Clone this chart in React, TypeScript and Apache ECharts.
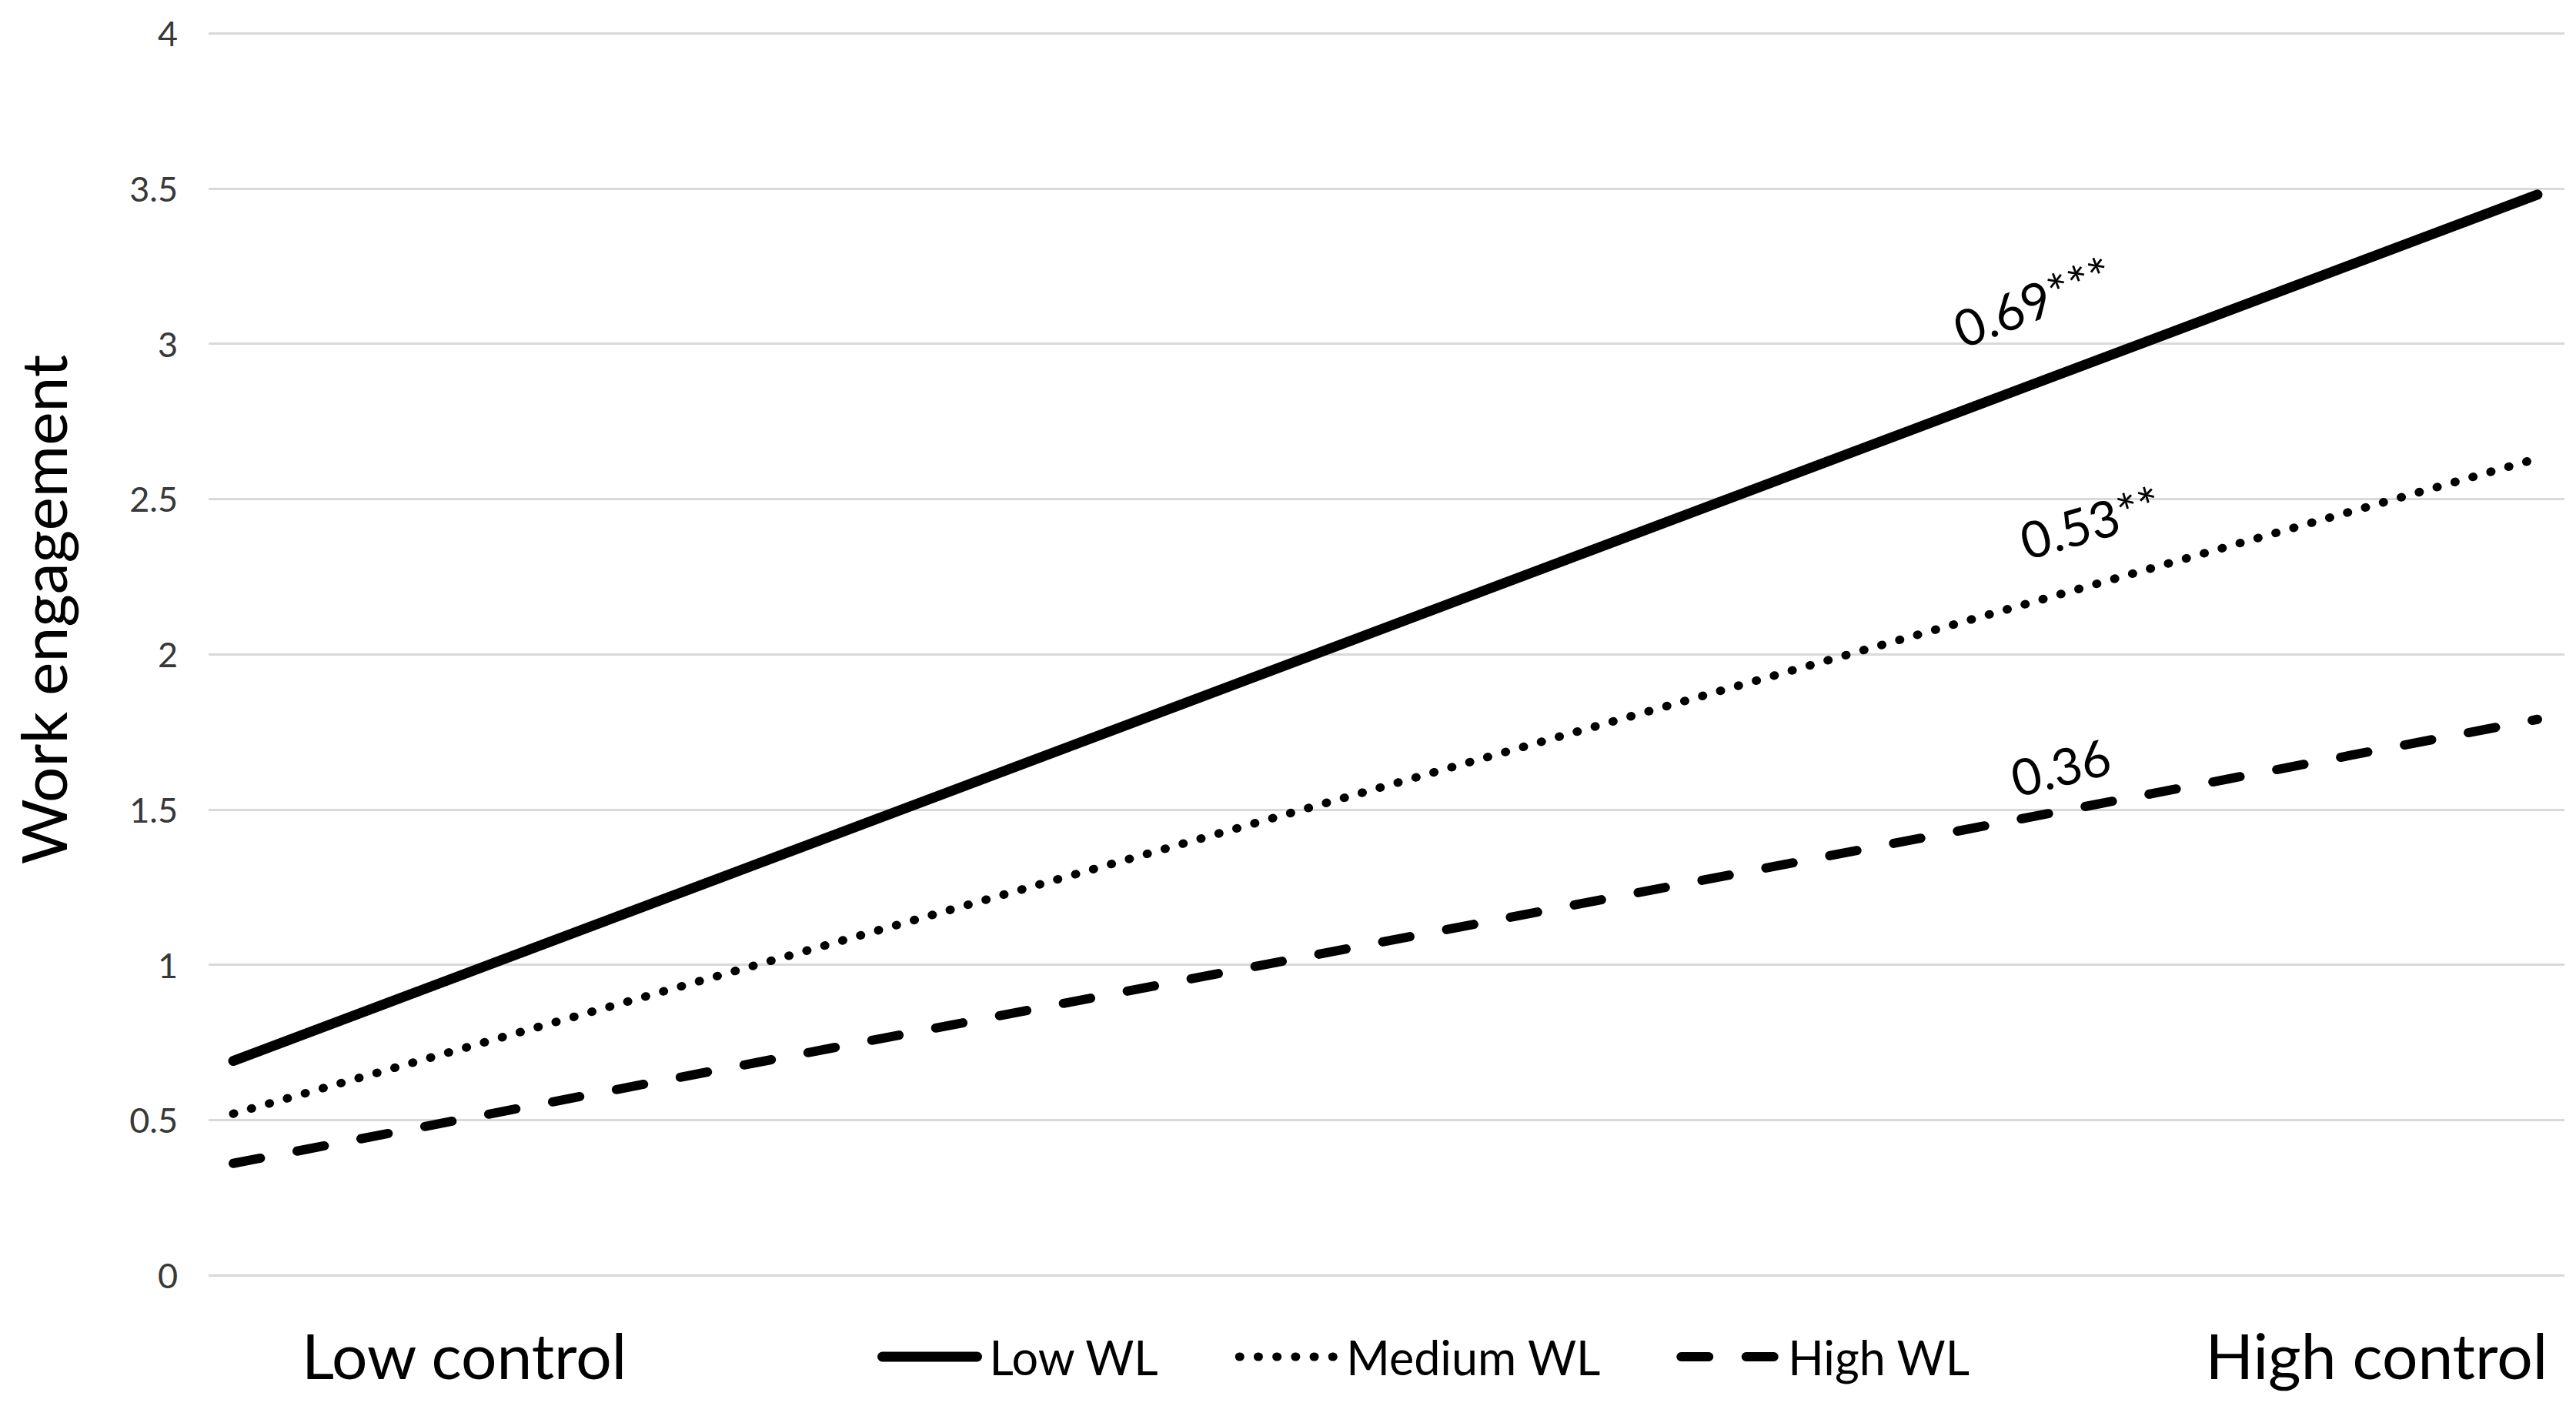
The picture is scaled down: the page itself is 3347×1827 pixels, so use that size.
import React, { useEffect, useRef } from "react";
import * as echarts from "echarts";

// ---- data ----
const controlLevels = [0, 1]; // 0 = Low control, 1 = High control
const lowWL = [0.69, 3.48];
const mediumWL = [0.52, 2.63];
const highWL = [0.36, 1.79];
const seriesNames = ["Low WL", "Medium WL", "High WL"];
const slopeLabels = ["0.69***", "0.53**", "0.36"];
const xAxisTexts = ["Low control", "High control"];
const yAxisTitle = "Work engagement";
const yTicks = { min: 0, max: 4, interval: 0.5 };

const FONT = "Lato, 'Open Sans', sans-serif";

export default function App() {
  const ref = useRef<HTMLDivElement>(null);

  useEffect(() => {
    if (!ref.current) return;
    const chart = echarts.init(ref.current, undefined, { renderer: "svg" });

    const toPairs = (ys: number[]) => ys.map((y, i) => [controlLevels[i], y]);

    const styles = [
      { width: 13, type: "solid" as any },
      { width: 11, type: [1, 23.2] as any },
      { width: 12, type: [36, 48.5] as any },
    ];
    const labelPos = [
      { coord: [0.781, 3.137], rotate: 21 },
      { coord: [0.806, 2.426], rotate: 16 },
      { coord: [0.793, 1.638], rotate: 14 },
    ];
    const values = [lowWL, mediumWL, highWL];

    const series = values.map((vals, i) => ({
      name: seriesNames[i],
      type: "line",
      data: toPairs(vals),
      symbol: "none",
      lineStyle: {
        color: "#000",
        width: styles[i].width,
        type: styles[i].type,
        cap: "round",
      },
      markPoint: {
        symbol: "circle",
        symbolSize: 1,
        itemStyle: { color: "rgba(0,0,0,0)" },
        label: {
          show: true,
          position: "inside",
          formatter: slopeLabels[i],
          fontSize: 66,
          fontFamily: FONT,
          color: "#000",
          rotate: labelPos[i].rotate,
        },
        data: [{ coord: labelPos[i].coord }],
      },
    }));

    chart.setOption({
      animation: false,
      backgroundColor: "#fff",
      grid: { left: 271, right: 15, top: 43, bottom: 170, containLabel: false },
      xAxis: {
        type: "value",
        min: -0.0107,
        max: 1.0117,
        show: false,
      },
      yAxis: {
        type: "value",
        min: yTicks.min,
        max: yTicks.max,
        interval: yTicks.interval,
        axisLine: { show: false },
        axisTick: { show: false },
        axisLabel: {
          fontSize: 45,
          fontFamily: FONT,
          color: "#383838",
          margin: 40,
        },
        splitLine: { lineStyle: { color: "#d9d9d9", width: 3 } },
      },
      legend: {
        left: 1135,
        top: 1723,
        itemWidth: 123,
        itemHeight: 2,
        itemGap: 98,
        itemStyle: { opacity: 0 },
        textStyle: {
          fontSize: 61,
          fontFamily: FONT,
          color: "#000",
          lineHeight: 70,
          padding: [0, 0, 0, 11],
        },
        data: seriesNames.map((n, i) => ({
          name: n,
          lineStyle: {
            color: "#000",
            width: styles[i].width,
            type: styles[i].type,
            cap: "round",
          },
        })),
      },
      graphic: [
        {
          type: "text",
          x: 55,
          y: 792,
          rotation: Math.PI / 2,
          style: {
            text: yAxisTitle,
            fontSize: 82,
            fontFamily: FONT,
            fill: "#000",
            align: "center",
            verticalAlign: "middle",
          },
        },
        {
          type: "text",
          x: 603,
          y: 1760,
          style: {
            text: xAxisTexts[0],
            fontSize: 82,
            fontFamily: FONT,
            fill: "#000",
            align: "center",
            verticalAlign: "middle",
          },
        },
        {
          type: "text",
          x: 3310,
          y: 1760,
          style: {
            text: xAxisTexts[1],
            fontSize: 82,
            fontFamily: FONT,
            fill: "#000",
            align: "right",
            verticalAlign: "middle",
          },
        },
      ],
      series,
    });

    return () => chart.dispose();
  }, []);

  return (
    <div
      ref={ref}
      style={{ position: "absolute", left: 0, top: 0, width: 3347, height: 1827, background: "#fff" }}
    />
  );
}
